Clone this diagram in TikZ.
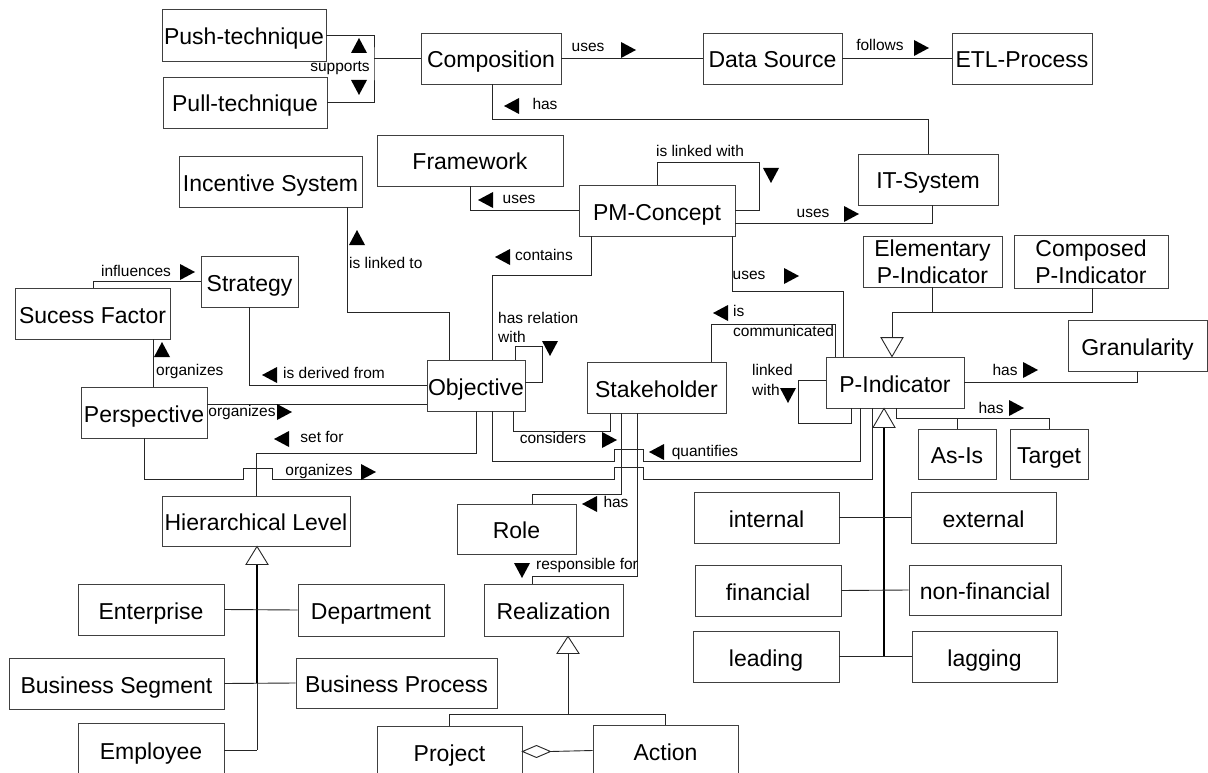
\documentclass[tikz,border=0pt]{standalone}
\usepackage{fontspec}
\setmainfont{Liberation Sans}
\newcommand\bx[6]{\node[box, minimum width=#4pt, minimum height=#5pt] (#1) at (#2,#3) {#6};}
\newcommand\tR[2]{\fill[black] (#1-7,#2-8) -- (#1+8,#2) -- (#1-7,#2+8) -- cycle;}
\newcommand\tL[2]{\fill[black] (#1+7,#2-8) -- (#1-8,#2) -- (#1+7,#2+8) -- cycle;}
\newcommand\tU[2]{\fill[black] (#1-8,#2+7) -- (#1,#2-8) -- (#1+8,#2+7) -- cycle;}
\newcommand\tD[2]{\fill[black] (#1-8,#2-7) -- (#1,#2+8) -- (#1+8,#2-7) -- cycle;}
\begin{document}
\begin{tikzpicture}[x=1pt,y=-1pt,
  box/.style={draw=black!75, line width=0.9pt, inner sep=0pt, font=\fontsize{23}{27}\selectfont, text height=19pt, text depth=0pt},
  boxtwo/.style={draw=black!75, line width=0.9pt, inner sep=0pt, font=\fontsize{23}{27}\selectfont, align=center},
  lbl/.style={inner sep=0pt, font=\fontsize{15.5}{18}\selectfont, text height=11pt, text depth=3.3pt},
  conn/.style={draw=black!85, line width=0.9pt},
  heavy/.style={draw=black, line width=2pt},
  gen/.style={draw=black!85, line width=0.9pt, fill=white}
]
\fill[white] (0,0) rectangle (1208,773);
\clip (0,0) rectangle (1208,773);

% ---------------- nodes ----------------
\bx{push}{244}{35}{164}{52}{Push-technique}
\bx{pull}{245}{102.5}{164}{51}{Pull-technique}
\bx{comp}{491}{58.5}{140}{51}{Composition}
\bx{ds}{772.5}{58.5}{139}{51}{Data Source}
\bx{etl}{1022}{58.5}{140}{51}{ETL-Process}
\bx{frame}{470}{160.5}{186}{51}{Framework}
\bx{incent}{270.5}{181.5}{183}{51}{Incentive System}
\bx{itsys}{928}{179.5}{140}{51}{IT-System}
\bx{pmc}{657}{210.5}{156}{51}{PM-Concept}
\node[boxtwo, minimum width=139pt, minimum height=51pt] (elem) at (932.5,261.5) {Elementary\\P-Indicator};
\node[boxtwo, minimum width=154pt, minimum height=53pt] (comp2) at (1091,261.5) {Composed\\P-Indicator};
\bx{strat}{249.5}{281.5}{97}{51}{Strategy}
\bx{sf}{92.5}{313.5}{155}{51}{Sucess Factor}
\bx{gran}{1137.5}{345.5}{139}{51}{Granularity}
\bx{pind}{895}{382.5}{138}{51}{P-Indicator}
\bx{obj}{476}{385.5}{98}{51}{Objective}
\bx{stake}{656.5}{387.5}{139}{51}{Stakeholder}
\bx{persp}{144}{412.5}{126}{51}{Perspective}
\bx{asis}{957}{454}{78}{50}{As-Is}
\bx{target}{1049}{454}{78}{50}{Target}
\bx{hier}{256}{521}{188}{50}{Hierarchical Level}
\bx{internal}{766.5}{517.5}{145}{51}{internal}
\bx{external}{983.5}{517.5}{145}{51}{external}
\bx{role}{516.5}{529}{119}{50}{Role}
\bx{fin}{768}{590.5}{146}{51}{financial}
\bx{nonfin}{985}{590}{152}{50}{non-financial}
\bx{ent}{151}{609.5}{146}{51}{Enterprise}
\bx{dept}{371}{610}{146}{52}{Department}
\bx{realiz}{553.5}{610}{139}{52}{Realization}
\bx{lead}{766}{656.5}{146}{51}{leading}
\bx{lag}{984.5}{656.5}{145}{51}{lagging}
\bx{bseg}{116.5}{683.5}{215}{51}{Business Segment}
\bx{bproc}{396.5}{683}{201}{50}{Business Process}
\bx{emp}{151}{750}{146}{54}{Employee}
\bx{proj}{449.5}{751.5}{145}{51}{Project}
\bx{act}{665.5}{750.5}{145}{51}{Action}

% ---------------- connectors ----------------
\coordinate (sup) at (374,58.5);
\draw[conn] (push.east) -| (sup) |- (pull.east);
\draw[conn] (sup) -- (comp.west);
\tU{359}{46} \tD{359}{87}
\node[lbl] (lsup) at (340,68) {supports};

\draw[conn] (comp.east) -- (ds.west);
\node[lbl] (luses1) at (588,48) {uses}; \tR{628}{50}
\draw[conn] (ds.east) -- (etl.west);
\node[lbl] (lfol) at (880,47) {follows}; \tR{921}{48}

\draw[conn] (comp.south -| 492,0) -- (492,119) -| (itsys.north);
\tL{512}{106} \node[lbl] (lhas1) at (545,106) {has};

\draw[conn] (pmc.west) -| (frame.south);
\tL{486}{200} \node[lbl] (luses2) at (519,200) {uses};

\draw[conn] (pmc.north) -- (657,162) -| ([xshift=24pt]pmc.east) -- (pmc.east);
\node[lbl] (llink) at (700,153) {is linked with}; \tD{771}{175}

\draw[conn] (pmc.east |- 0,223) -| (itsys.south -| 932,0);
\node[lbl] (luses3) at (813,214) {uses}; \tR{851}{214}

\draw[conn] (pmc.south -| 591,0) -- (591,275) -| (obj.north -| 492,0);
\tL{503}{257} \node[lbl] (lcont) at (544,257) {contains};

\draw[conn] (pmc.south -| 732,0) -- (732,291) -| (pind.north -| 843,0);
\node[lbl] (luses4) at (749,276) {uses}; \tR{791}{276}

\draw[conn] (obj.north -| 515,0) |- (542,346) |- (obj.east |- 0,382);
\node[lbl,anchor=west] (lrel) at (498,320) {has relation};
\node[lbl,anchor=west] (lrel2) at (498,339) {with};
\tD{550}{348}

\draw[conn] (stake.north -| 711,0) |- (835,324) -- (pind.north -| 835,0);
\tL{721}{313}
\node[lbl,anchor=west] (lcom1) at (733,313) {is};
\node[lbl,anchor=west] (lcom2) at (733,333) {communicated};

\draw[conn] (pind.west |- 0,380) -| (798,423) -| (pind.south -| 851,0);
\node[lbl,anchor=west] (llw1) at (752,372) {linked};
\node[lbl,anchor=west] (llw2) at (752,392) {with};
\tD{788}{395}

\draw[conn] (pind.east |- 0,382) -| (gran.south);
\node[lbl] (lhas2) at (1005,372) {has}; \tR{1030}{370}

% generalisation Elementary / Composed -> P-Indicator
\draw[conn] (elem.south) |- (892,312);
\draw[conn] (comp2.south -| 1092,0) |- (892,312) -- (892,338);
\draw[gen] (pind.north -| 892,0) -- ++(-11,-19) -- ++(22,0) -- cycle;

\draw[conn] (pind.south -| 896,0) -- (896,418) -| (target.north);
\draw[conn] (asis.north) -- (957,418);
\node[lbl] (lhas3) at (991,410) {has}; \tR{1016}{408}

% specialisation of P-Indicator
\draw[heavy] (884,426) -- (884,656.5);
\draw[gen] (pind.south -| 884,0) -- ++(-11,19) -- ++(22,0) -- cycle;
\draw[conn] (internal.east) -- (external.west);
\draw[conn] (fin.east) -- (nonfin.west);
\draw[conn] (lead.east) -- (lag.west);

% quantifies
\draw[conn] (obj.south -| 492,0) -- (492,461) -- (614,461) -- (614,449) -- (643,449) -- (643,461) -| (pind.south -| 860,0);
\tL{657}{452} \node[lbl] (lquant) at (705,453) {quantifies};

% organizes perspective -> p-indicator
\draw[conn] (persp.south) -- (144,479.5) -- (243,479.5) -- (243,468) -- (272,468) -- (272,479.5) -- (614,479.5) -- (614,467) -- (643,467) -- (643,479.5) -| (pind.south -| 872,0);
\node[lbl] (lorg3) at (319,472) {organizes}; \tR{368}{472}

% set for
\draw[conn] (obj.south) -- (476,453) -| (hier.north);
\tL{282}{439} \node[lbl] (lset) at (322,439) {set for};

% considers
\draw[conn] (obj.south -| 513,0) |- (610,431) -- (stake.south -| 610,0);
\node[lbl] (lcons) at (553,440) {considers}; \tR{609}{440}

% has role
\draw[conn] (stake.south -| 621,0) |- (532,494) -- (role.north -| 532,0);
\tL{590}{504} \node[lbl] (lhas4) at (616,504) {has};

% responsible for
\draw[conn] (stake.south -| 637,0) |- (532,576) -- (realiz.north -| 532,0);
\tD{522}{570}
\node[lbl,anchor=west] (lresp) at (536,566) {responsible for};

% realization specialisation
\draw[conn] (568,652) -- (568,714);
\draw[gen] (realiz.south -| 568,0) -- ++(-11,17) -- ++(22,0) -- cycle;
\draw[conn] (proj.north) -- (449.5,714) -| (act.north);

% aggregation
\draw[conn] (act.west) -- ([xshift=28pt]proj.east);
\draw[gen] (proj.east) -- ++(14,-6) -- ++(14,6) -- ++(-14,6) -- cycle;

% hierarchical level specialisation
\draw[heavy] (257,563) -- (257,683);
\draw[conn] (257,683) -- (257,750);
\draw[gen] (hier.south -| 257,0) -- ++(-11,18) -- ++(22,0) -- cycle;
\draw[conn] (ent.east) -- (dept.west);
\draw[conn] (bseg.east) -- (bproc.west);
\draw[conn] (emp.east) -- (257,750);

% left part
\draw[conn] (sf.north -| 93,0) |- (strat.west);
\node[lbl] (linf) at (136,273) {influences}; \tR{187}{272}

\draw[conn] (persp.north -| 153,0) -- (sf.south -| 153,0);
\tU{162}{350}
\node[lbl,anchor=west] (lorg1) at (156,372) {organizes};

\draw[conn] (strat.south) |- (obj.west);
\tL{270}{375} \node[lbl] (lder) at (334,375) {is derived from};

\draw[conn] (persp.east |- 0,404) -- (obj.west |- 0,404);
\node[lbl] (lorg2) at (242,413) {organizes}; \tR{284}{412}

\draw[conn] (incent.south -| 347,0) |- (449,312) -- (obj.north -| 449,0);
\tU{357}{238}
\node[lbl,anchor=west] (llt) at (349,265) {is linked to};
\end{tikzpicture}
\end{document}
